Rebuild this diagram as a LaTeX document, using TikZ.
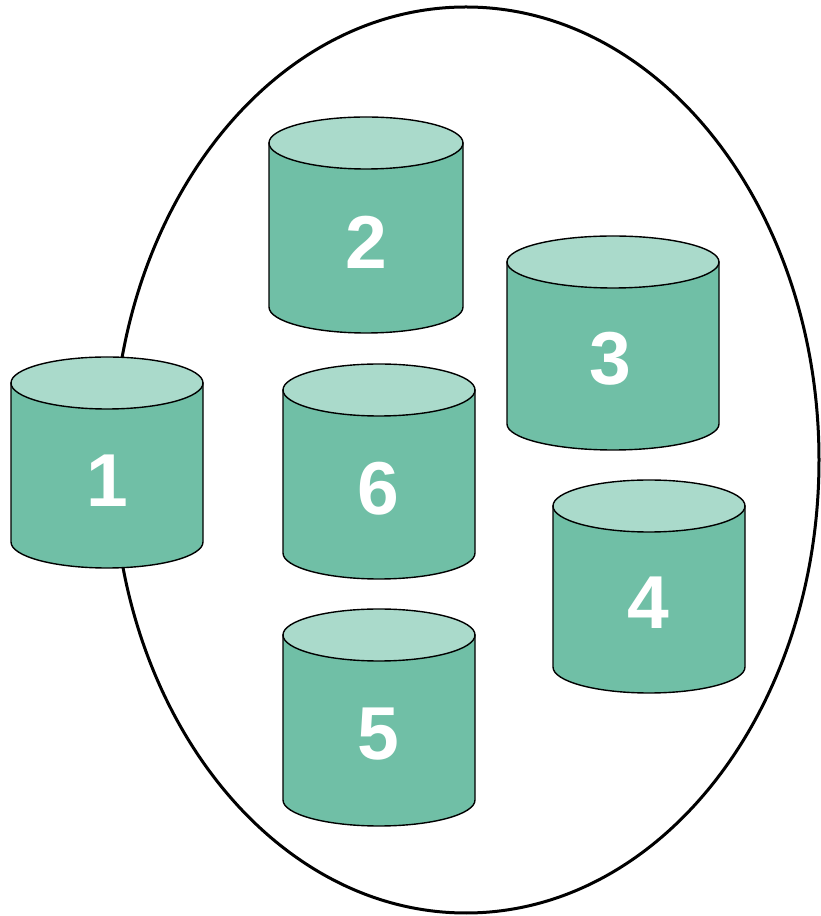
\documentclass[tikz,border=0pt]{standalone}
\usepackage{fontspec}
\setsansfont{Liberation Sans}
\usepackage{tikz}
\usetikzlibrary{positioning}
\definecolor{drumbody}{RGB}{112,191,166}
\definecolor{drumlid}{RGB}{170,218,203}

\begin{document}
\begin{tikzpicture}[x=1pt,y=1pt,
  side/.style={fill=drumbody,draw=black,line width=1.4pt},
  lid/.style={fill=drumlid,draw=black,line width=1.4pt},
  digit/.style={text=white,inner sep=0pt,font=\sffamily\bfseries\fontsize{75}{80}\selectfont}]

\useasboundingbox (0,0) rectangle (821,916);

% the group
\draw[line width=3pt] (466,456) ellipse[x radius=353,y radius=453];

% drum 1
\filldraw[side] (11,533) -- (11,374) arc[start angle=180,end angle=360,x radius=96,y radius=26] -- (203,533) -- cycle;
\filldraw[lid] (107,533) ellipse[x radius=96,y radius=26];
\node[digit] (n1) at (107,435) {1};

% drum 2
\filldraw[side] (269,773) -- (269,609) arc[start angle=180,end angle=360,x radius=97,y radius=26] -- (463,773) -- cycle;
\filldraw[lid] (366,773) ellipse[x radius=97,y radius=26];
\node[digit] (n2) at (366,674) {2};

% drum 3
\filldraw[side] (507,654) -- (507,492) arc[start angle=180,end angle=360,x radius=106,y radius=26] -- (719,654) -- cycle;
\filldraw[lid] (613,654) ellipse[x radius=106,y radius=26];
\node[digit] (n3) at (610,557) {3};

% drum 4
\filldraw[side] (553,410) -- (553,249) arc[start angle=180,end angle=360,x radius=96,y radius=26] -- (745,410) -- cycle;
\filldraw[lid] (649,410) ellipse[x radius=96,y radius=26];
\node[digit] (n4) at (648,313) {4};

% drum 6
\filldraw[side] (283,526) -- (283,363) arc[start angle=180,end angle=360,x radius=96,y radius=26] -- (475,526) -- cycle;
\filldraw[lid] (379,526) ellipse[x radius=96,y radius=26];
\node[digit] (n6) at (378,427) {6};

% drum 5
\filldraw[side] (283,281) -- (283,116) arc[start angle=180,end angle=360,x radius=96,y radius=26] -- (475,281) -- cycle;
\filldraw[lid] (379,281) ellipse[x radius=96,y radius=26];
\node[digit] (n5) at (378,182) {5};

\end{tikzpicture}
\end{document}
